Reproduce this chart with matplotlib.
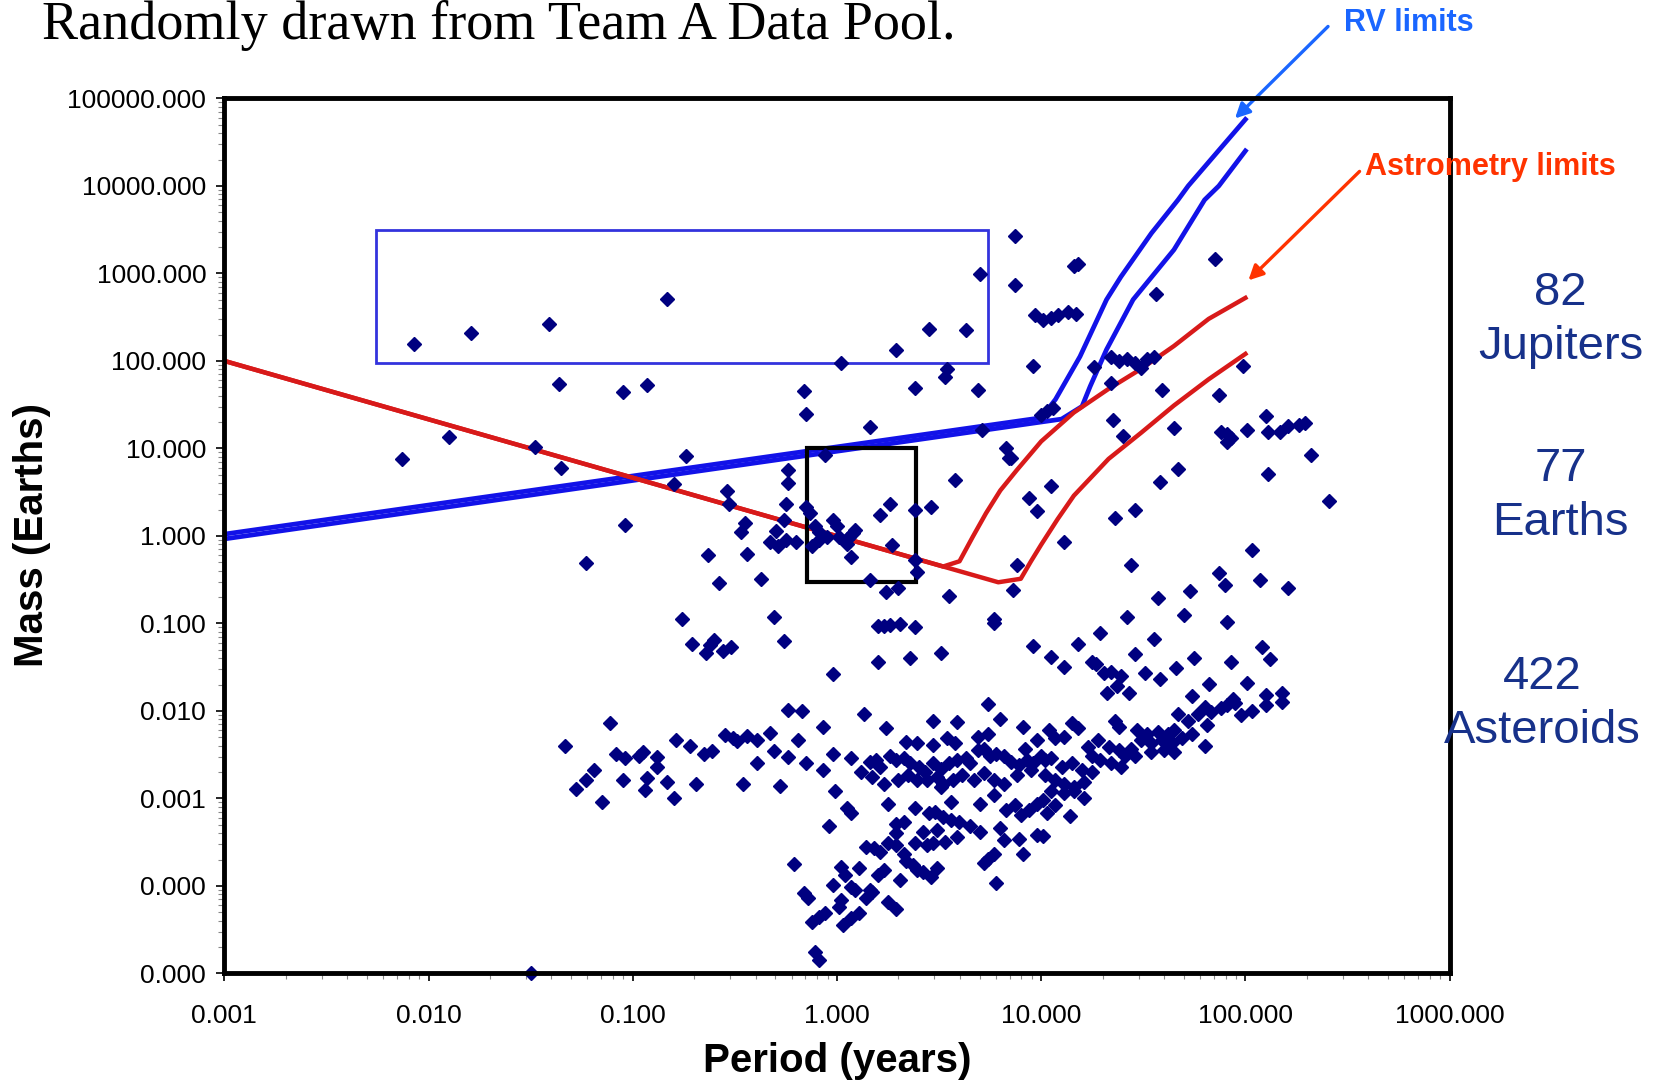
import numpy as np
import matplotlib
matplotlib.use("Agg")
import matplotlib.pyplot as plt
from matplotlib.ticker import FixedLocator, FuncFormatter, LogLocator, NullFormatter
from matplotlib.patches import Rectangle

plt.rcParams['font.family'] = ['Liberation Sans', 'DejaVu Sans']

# points as (log10 period [yr], log10 mass [Earths])
pts_short = [(-2.07, 2.19), (-1.79, 2.32), (-1.41, 2.42), (-1.36, 1.74), (-1.05, 1.64),
             (-1.90, 1.13), (-2.13, 0.88), (-1.48, 1.02), (-1.35, 0.78), (-1.04, 0.12),
             (-1.23, -0.31)]

pts_mid = [(-0.83, 2.71), (0.70, 2.99), (0.87, 2.87), (0.87, 3.43), (0.45, 2.36), (0.63, 2.35),
           (0.29, 2.12), (0.02, 1.98), (0.54, 1.91), (0.53, 1.82), (0.96, 1.94), (-0.93, 1.73),
           (-0.16, 1.66), (0.38, 1.69), (0.69, 1.67), (-0.15, 1.39), (0.16, 1.24), (0.71, 1.21),
           (0.83, 1.00), (0.84, 0.89), (0.85, 0.89), (-0.74, 0.91), (-0.06, 0.92), (-0.24, 0.75),
           (-0.24, 0.61), (0.58, 0.64), (-0.80, 0.59), (-0.54, 0.51), (-0.53, 0.37), (0.94, 0.43),
           (0.98, 0.28), (-0.25, 0.37), (-0.26, 0.18), (-0.15, 0.33), (-0.13, 0.26), (-0.45, 0.15),
           (-0.47, 0.05), (-0.30, 0.06), (-0.33, -0.07), (-0.29, -0.11), (-0.25, -0.05), (-0.20, -0.07),
           (-0.11, 0.11), (-0.09, 0.05), (-0.05, -0.01), (-0.02, 0.18), (0.00, 0.11), (-0.12, -0.12),
           (-0.09, -0.05), (0.01, -0.01), (0.05, -0.03), (0.09, 0.07), (0.08, 0.03), (0.05, -0.09),
           (0.06, -0.01), (0.21, 0.24), (0.26, 0.36), (0.27, -0.10), (0.07, -0.24), (0.38, 0.30),
           (0.46, 0.33), (0.38, -0.27), (0.39, -0.41), (-0.63, -0.22), (-0.44, -0.21), (-0.58, -0.54),
           (-0.37, -0.49), (0.16, -0.50), (0.24, -0.64), (0.30, -0.59), (0.88, -0.33), (0.55, -0.69),
           (0.86, -0.62), (0.77, -0.95), (-0.76, -0.95), (-0.31, -0.93)]

pts_long = [(1.16, 3.09), (1.18, 3.11), (1.85, 3.17), (1.56, 2.77), (0.97, 2.53), (1.01, 2.47),
            (1.05, 2.49), (1.08, 2.53), (1.13, 2.56), (1.17, 2.54), (1.26, 1.93), (1.34, 2.04),
            (1.38, 2.00), (1.42, 2.02), (1.46, 1.98), (1.49, 1.92), (1.52, 2.02), (1.55, 2.04),
            (1.34, 1.75), (1.99, 1.94), (1.59, 1.67), (1.87, 1.61), (1.00, 1.38), (1.03, 1.43),
            (1.06, 1.46), (1.35, 1.33), (1.40, 1.14), (1.65, 1.23), (1.88, 1.19), (1.91, 1.16),
            (1.93, 1.12), (1.91, 1.07), (2.01, 1.21), (2.10, 1.37), (2.11, 1.19), (2.17, 1.19),
            (2.21, 1.26), (2.26, 1.27), (2.29, 1.29), (2.32, 0.93), (2.11, 0.71), (2.41, 0.40),
            (1.67, 0.77), (1.58, 0.62), (1.05, 0.57), (1.46, 0.30), (1.36, 0.20), (1.11, -0.07),
            (1.44, -0.33), (2.03, -0.16), (1.87, -0.42), (1.90, -0.56), (2.07, -0.50), (2.21, -0.60),
            (1.73, -0.63), (1.57, -0.71), (1.42, -0.93), (1.70, -0.90), (1.91, -0.98)]

pts_small_a = [(-0.71, -1.24), (-0.64, -1.34), (-0.62, -1.25), (-0.60, -1.19), (-0.56, -1.32),
               (-0.52, -1.27), (-0.26, -1.20), (-0.24, -1.99), (-1.11, -2.14), (-1.33, -2.40),
               (-0.79, -2.33), (-0.72, -2.40), (-0.55, -2.28), (-0.51, -2.31), (-0.49, -2.34),
               (-0.44, -2.29), (-0.39, -2.33), (-0.33, -2.25), (-0.19, -2.33), (-1.08, -2.49),
               (-1.04, -2.54), (-0.97, -2.52), (-0.95, -2.47), (-0.88, -2.53), (-0.65, -2.49),
               (-0.61, -2.46), (-0.31, -2.46), (-0.24, -2.53), (-1.19, -2.68), (-0.88, -2.64),
               (-0.39, -2.59), (-1.23, -2.79), (-1.28, -2.89), (-1.05, -2.79), (-0.93, -2.77),
               (-0.94, -2.90), (-0.83, -2.81), (-0.69, -2.83), (-0.46, -2.83), (-0.28, -2.86),
               (-1.15, -3.04), (-0.80, -3.00), (-0.21, -3.75), (-1.50, -5.00),
               (-0.02, -1.58), (-0.17, -2.00), (-0.07, -2.18), (-0.02, -2.49), (-0.15, -2.59),
               (-0.07, -2.67), (-0.01, -2.92), (-0.04, -3.32), (-0.02, -3.99), (-0.16, -4.08),
               (-0.14, -4.14), (-0.12, -4.41), (-0.09, -4.35), (-0.06, -4.31), (-0.11, -4.75),
               (-0.09, -4.85)]

pts_small_b = [(0.20, -1.03), (0.23, -1.03), (0.26, -1.02), (0.31, -1.01), (0.38, -1.04), (0.77, -1.00),
               (0.96, -1.26), (0.51, -1.34), (0.20, -1.44), (0.36, -1.40), (0.74, -1.92), (0.13, -2.04),
               (0.47, -2.11), (0.59, -2.13), (0.80, -2.09), (0.24, -2.20), (0.91, -2.18), (0.34, -2.35),
               (0.39, -2.37), (0.47, -2.39), (0.54, -2.31), (0.58, -2.37), (0.69, -2.30), (0.74, -2.26),
               (0.98, -2.33), (0.92, -2.43), (0.07, -2.54),
               (0.16, -2.58), (0.19, -2.56), (0.21, -2.64), (0.26, -2.52), (0.29, -2.56), (0.33, -2.54),
               (0.36, -2.60), (0.40, -2.64), (0.43, -2.70), (0.47, -2.60), (0.51, -2.66), (0.55, -2.60),
               (0.59, -2.56), (0.63, -2.54), (0.65, -2.60), (0.69, -2.45), (0.72, -2.43), (0.75, -2.51),
               (0.78, -2.49), (0.82, -2.52), (0.85, -2.58), (0.89, -2.62), (0.93, -2.56), (0.96, -2.60),
               (1.00, -2.52), (0.12, -2.70), (0.17, -2.75), (0.23, -2.83), (0.30, -2.79), (0.35, -2.73),
               (0.39, -2.79), (0.44, -2.79), (0.49, -2.75), (0.52, -2.83), (0.57, -2.79), (0.61, -2.73),
               (0.67, -2.79), (0.72, -2.71), (0.77, -2.79), (0.82, -2.83), (0.88, -2.73), (0.95, -2.68),
               (0.05, -3.11), (0.07, -3.17), (0.25, -3.06), (0.38, -3.11), (0.45, -3.17), (0.48, -3.15),
               (0.56, -3.04), (0.51, -2.87), (0.70, -3.06), (0.77, -2.96), (0.83, -3.13), (0.87, -3.08),
               (0.90, -3.19), (0.94, -3.13), (0.98, -3.06), (0.29, -3.29), (0.33, -3.27), (0.52, -3.21),
               (0.56, -3.25), (0.60, -3.27), (0.65, -3.31), (0.29, -3.40), (0.42, -3.38), (0.49, -3.36),
               (0.53, -3.50), (0.59, -3.44), (0.70, -3.38), (0.80, -3.34), (0.82, -3.48), (0.89, -3.46),
               (0.98, -3.42), (0.25, -3.51), (0.29, -3.53), (0.38, -3.51), (0.44, -3.53), (0.47, -3.51),
               (0.14, -3.56), (0.18, -3.57), (0.21, -3.61), (0.91, -3.63), (0.33, -3.63), (0.34, -3.71),
               (0.37, -3.76), (0.39, -3.82), (0.42, -3.84), (0.46, -3.90), (0.49, -3.80), (0.77, -3.63),
               (0.74, -3.69), (0.72, -3.74), (0.02, -3.78), (0.04, -3.88), (0.11, -3.80), (0.23, -3.82),
               (0.20, -3.88), (0.31, -3.93), (0.78, -3.97), (0.07, -4.01), (0.09, -4.05), (0.16, -4.05),
               (0.14, -4.14), (0.17, -4.07), (0.02, -4.16), (0.01, -4.24), (0.25, -4.18), (0.29, -4.26),
               (0.11, -4.31), (0.07, -4.37), (0.03, -4.45)]

pts_small_c = [(1.29, -1.11), (1.18, -1.24), (1.55, -1.18), (1.05, -1.38), (1.11, -1.50), (1.25, -1.44),
               (1.27, -1.46), (1.31, -1.57), (1.34, -1.55), (1.39, -1.60), (1.46, -1.35), (1.51, -1.57),
               (1.58, -1.63), (1.66, -1.51), (1.75, -1.39), (1.93, -1.44), (2.08, -1.27), (2.12, -1.41),
               (1.82, -1.69), (2.01, -1.68), (1.32, -1.79), (1.37, -1.72), (1.43, -1.80), (1.74, -1.83),
               (2.10, -1.82), (2.18, -1.80), (2.18, -1.90), (2.10, -1.93), (1.94, -1.86), (1.98, -2.05),
               (2.03, -2.00), (1.67, -2.03), (1.72, -2.12), (1.77, -2.03), (1.80, -1.95), (1.83, -2.01),
               (1.88, -1.97), (1.91, -1.93), (1.95, -1.91), (1.81, -2.16), (1.74, -2.26), (1.80, -2.40),
               (1.15, -2.14), (1.18, -2.20), (1.36, -2.11), (1.38, -2.18), (1.04, -2.22), (1.07, -2.31),
               (1.11, -2.30), (1.47, -2.22), (1.52, -2.26), (1.57, -2.24), (1.62, -2.26), (1.65, -2.22),
               (1.49, -2.33), (1.54, -2.37), (1.59, -2.33), (1.64, -2.37), (1.69, -2.31), (1.54, -2.47),
               (1.60, -2.45), (1.65, -2.47), (1.44, -2.43), (1.41, -2.51), (1.46, -2.52), (1.23, -2.41),
               (1.28, -2.33), (1.33, -2.41), (1.38, -2.45), (1.25, -2.52), (1.29, -2.56), (1.34, -2.60),
               (1.39, -2.64), (1.02, -2.56), (1.05, -2.54), (1.10, -2.64), (1.15, -2.60), (1.20, -2.68),
               (1.25, -2.70), (1.02, -2.73), (1.07, -2.79), (1.11, -2.83), (1.16, -2.87), (1.21, -2.81),
               (1.05, -2.91), (1.11, -2.94), (1.16, -2.91), (1.21, -3.00), (1.01, -3.02), (1.03, -3.17),
               (1.07, -3.08), (1.14, -3.20), (1.01, -3.43)]

# detection limit curves (log10 period, log10 mass)
rv1_logP = [-3.0, 1.00, 1.07, 1.19, 1.32, 1.39, 1.54, 1.67, 1.72, 2.00]
rv1_logM = [0.02, 1.35, 1.56, 2.05, 2.70, 2.96, 3.46, 3.84, 4.00, 4.76]
rv2_logP = [-3.0, 1.10, 1.20, 1.24, 1.32, 1.45, 1.65, 1.80, 1.87, 2.00]
rv2_logM = [-0.035, 1.335, 1.48, 1.71, 2.13, 2.70, 3.27, 3.84, 4.00, 4.40]
ast1_logP = [-3.0, 0.52, 0.60, 0.665, 0.73, 0.80, 0.88, 1.00, 1.16, 1.33, 1.49, 1.65, 1.82, 2.00]
ast1_logM = [2.0, -0.35, -0.29, -0.01, 0.26, 0.52, 0.75, 1.08, 1.41, 1.68, 1.91, 2.17, 2.48, 2.72]
ast2_logP = [-3.0, 0.79, 0.90, 0.95, 1.00, 1.08, 1.16, 1.33, 1.49, 1.65, 1.82, 2.00]
ast2_logM = [2.0, -0.53, -0.49, -0.29, -0.10, 0.19, 0.46, 0.88, 1.18, 1.49, 1.79, 2.08]

# boxes: (period min, period max, mass min, mass max)
jupiter_box = (0.00553, 5.47, 95.0, 3160.0)
earth_box = (0.71, 2.44, 0.30, 10.0)

counts = [("82", "Jupiters"), ("77", "Earths"), ("422", "Asteroids")]
decades = [10.0 ** k for k in range(-5, 6)]

fig = plt.figure(figsize=(16.59, 10.8), dpi=100)
ax = fig.add_axes([0.1352, 0.0987, 0.7386, 0.8102])
ax.set_xscale('log')
ax.set_yscale('log')
ax.set_xlim(1e-3, 1e3)
ax.set_ylim(1e-5, 1e5)

blue = '#1212e8'
red = '#d81a1a'
ax.plot(10 ** np.array(rv1_logP), 10 ** np.array(rv1_logM), color=blue, lw=3.4, zorder=2)
ax.plot(10 ** np.array(rv2_logP), 10 ** np.array(rv2_logM), color=blue, lw=3.4, zorder=2)
ax.plot(10 ** np.array(ast1_logP), 10 ** np.array(ast1_logM), color=red, lw=3.2, zorder=2)
ax.plot(10 ** np.array(ast2_logP), 10 ** np.array(ast2_logM), color=red, lw=3.2, zorder=2)

p0, p1, m0, m1 = jupiter_box
ax.add_patch(Rectangle((p0, m0), p1 - p0, m1 - m0, fill=False, ec='#3333dd', lw=2.0, zorder=2))
p0, p1, m0, m1 = earth_box
ax.add_patch(Rectangle((p0, m0), p1 - p0, m1 - m0, fill=False, ec='black', lw=3.0, zorder=2))

allpts = np.array(pts_short + pts_mid + pts_long + pts_small_a + pts_small_b + pts_small_c)
ax.plot(10 ** allpts[:, 0], 10 ** allpts[:, 1], 'D', color='#000080', ms=7,
        mec='#000080', ls='none', zorder=3, clip_on=False)

for s in ax.spines.values():
    s.set_linewidth(3.5)
    s.set_zorder(4)

fmt = FuncFormatter(lambda v, pos: f'{v:.3f}')
ax.xaxis.set_major_locator(FixedLocator([10.0 ** k for k in range(-3, 4)]))
ax.yaxis.set_major_locator(FixedLocator(decades))
ax.xaxis.set_major_formatter(fmt)
ax.yaxis.set_major_formatter(fmt)
for axis in (ax.xaxis, ax.yaxis):
    axis.set_minor_locator(LogLocator(base=10, subs=np.arange(2, 10), numticks=20))
    axis.set_minor_formatter(NullFormatter())
ax.tick_params(which='major', direction='out', length=6, width=1.2, labelsize=19)
ax.tick_params(which='minor', direction='out', length=4, width=0.8, color='#888888')
ax.tick_params(axis='x', which='major', pad=16)
ax.tick_params(axis='y', which='major', pad=7)

fig.text(0.0193, 0.505, 'Mass (Earths)', rotation=90, fontsize=29, fontweight='bold',
         ha='center', va='center')
fig.text(0.5045, 0.018, 'Period (years)', fontsize=29, fontweight='bold',
         ha='center', va='center')

fig.text(0.0253, 0.964, 'Randomly drawn from Team A Data Pool.', fontsize=39,
         family=['Liberation Serif', 'DejaVu Serif'], ha='left', va='baseline')

navy = '#17318a'
label_pos = [(0.9407, 0.7035), (0.9407, 0.5405), (0.9298, 0.348)]
for (num, name), (x, y) in zip(counts, label_pos):
    fig.text(x, y, f'{num}\n{name}', fontsize=34, color=navy, ha='center', va='center',
             linespacing=1.3)

rv_col = '#1a66ff'
ast_col = '#ff3300'
fig.text(0.810, 0.9787, 'RV limits', fontsize=22, fontweight='bold', color=rv_col,
         ha='left', va='center')
fig.text(0.8228, 0.8454, 'Astrometry limits', fontsize=22, fontweight='bold', color=ast_col,
         ha='left', va='center')
ax.annotate('', xy=(0.7444, 0.8903), xytext=(0.8005, 0.9755), xycoords='figure fraction',
            textcoords='figure fraction', annotation_clip=False,
            arrowprops=dict(arrowstyle='-|>', color=rv_col, lw=2.4, mutation_scale=22,
                            shrinkA=0, shrinkB=0))
ax.annotate('', xy=(0.7525, 0.7404), xytext=(0.8195, 0.8413), xycoords='figure fraction',
            textcoords='figure fraction', annotation_clip=False,
            arrowprops=dict(arrowstyle='-|>', color=ast_col, lw=2.4, mutation_scale=22,
                            shrinkA=0, shrinkB=0))

fig.savefig('out.png', dpi=100)
